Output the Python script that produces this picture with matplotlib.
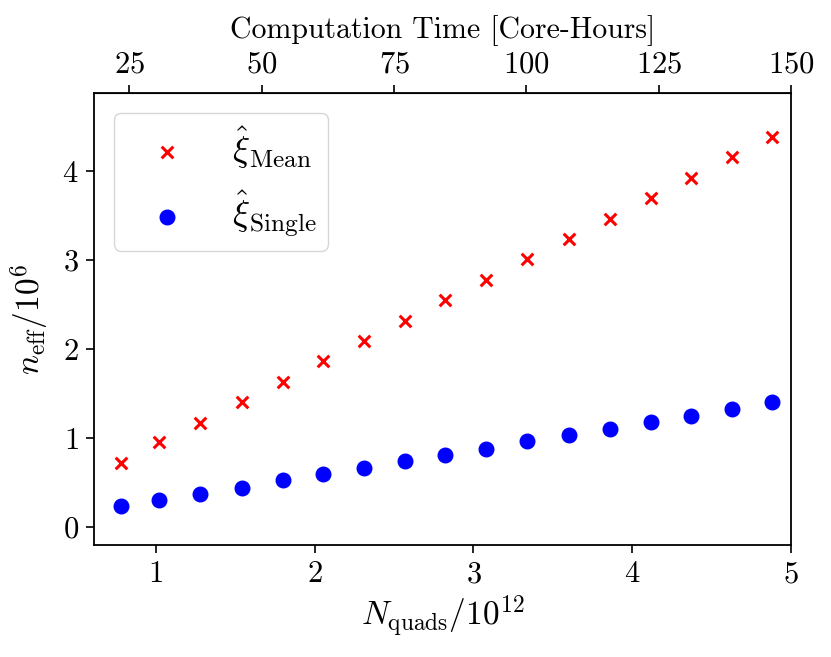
import matplotlib
matplotlib.use("Agg")
import matplotlib.pyplot as plt
import numpy as np

plt.rcParams['font.family'] = 'serif'
plt.rcParams['font.serif'] = ['cmr10']
plt.rcParams['mathtext.fontset'] = 'cm'
plt.rcParams['axes.formatter.use_mathtext'] = True

n_quads = [0.78, 1.02, 1.28, 1.54, 1.80, 2.05, 2.31, 2.57, 2.82, 3.08, 3.34,
           3.60, 3.86, 4.12, 4.37, 4.63, 4.88]
n_eff_mean = [0.72, 0.95, 1.17, 1.40, 1.63, 1.86, 2.09, 2.32, 2.55, 2.78, 3.01,
              3.24, 3.47, 3.70, 3.93, 4.16, 4.39]
n_eff_single = [0.23, 0.30, 0.37, 0.44, 0.52, 0.59, 0.66, 0.74, 0.81, 0.88, 0.96,
                1.03, 1.10, 1.18, 1.25, 1.33, 1.40]
core_hours_per_unit = 30.0

fig, ax = plt.subplots(figsize=(8.31, 6.57), dpi=100)
ax.scatter(n_quads, n_eff_mean, marker='x', color='red', s=70, linewidths=2.2,
           label=r'$\hat{\xi}_{\rm Mean}$', zorder=3)
ax.scatter(n_quads, n_eff_single, marker='o', color='blue', s=110,
           label=r'$\hat{\xi}_{\rm Single}$', zorder=3)

ax.set_xlim(0.61, 5.0)
ax.set_ylim(-0.21, 4.88)
ax.set_xticks([1, 2, 3, 4, 5])
ax.set_yticks([0, 1, 2, 3, 4])
ax.tick_params(labelsize=22, width=1.2, length=6, pad=5)
for s in ax.spines.values():
    s.set_linewidth(1.3)
ax.set_xlabel(r'$N_{\rm quads}/10^{12}$', fontsize=24, labelpad=4)
ax.set_ylabel(r'$n_{\rm eff}/10^{6}$', fontsize=24, labelpad=8)

sec = ax.secondary_xaxis('top', functions=(lambda x: x * core_hours_per_unit,
                                           lambda t: t / core_hours_per_unit))
sec.set_xticks([25, 50, 75, 100, 125, 150])
sec.tick_params(labelsize=22, width=1.2, length=6, pad=5)
sec.set_xlabel('Computation Time [Core-Hours]', fontsize=21.5, labelpad=9)

leg = ax.legend(loc='upper left', fontsize=26, borderpad=0.32, labelspacing=0.5,
                handlelength=2.3, handletextpad=0.65, borderaxespad=0.55,
                markerscale=1.0)

fig.subplots_adjust(left=0.113, right=0.952, bottom=0.17, top=0.858)
fig.savefig('out.png', dpi=100)
